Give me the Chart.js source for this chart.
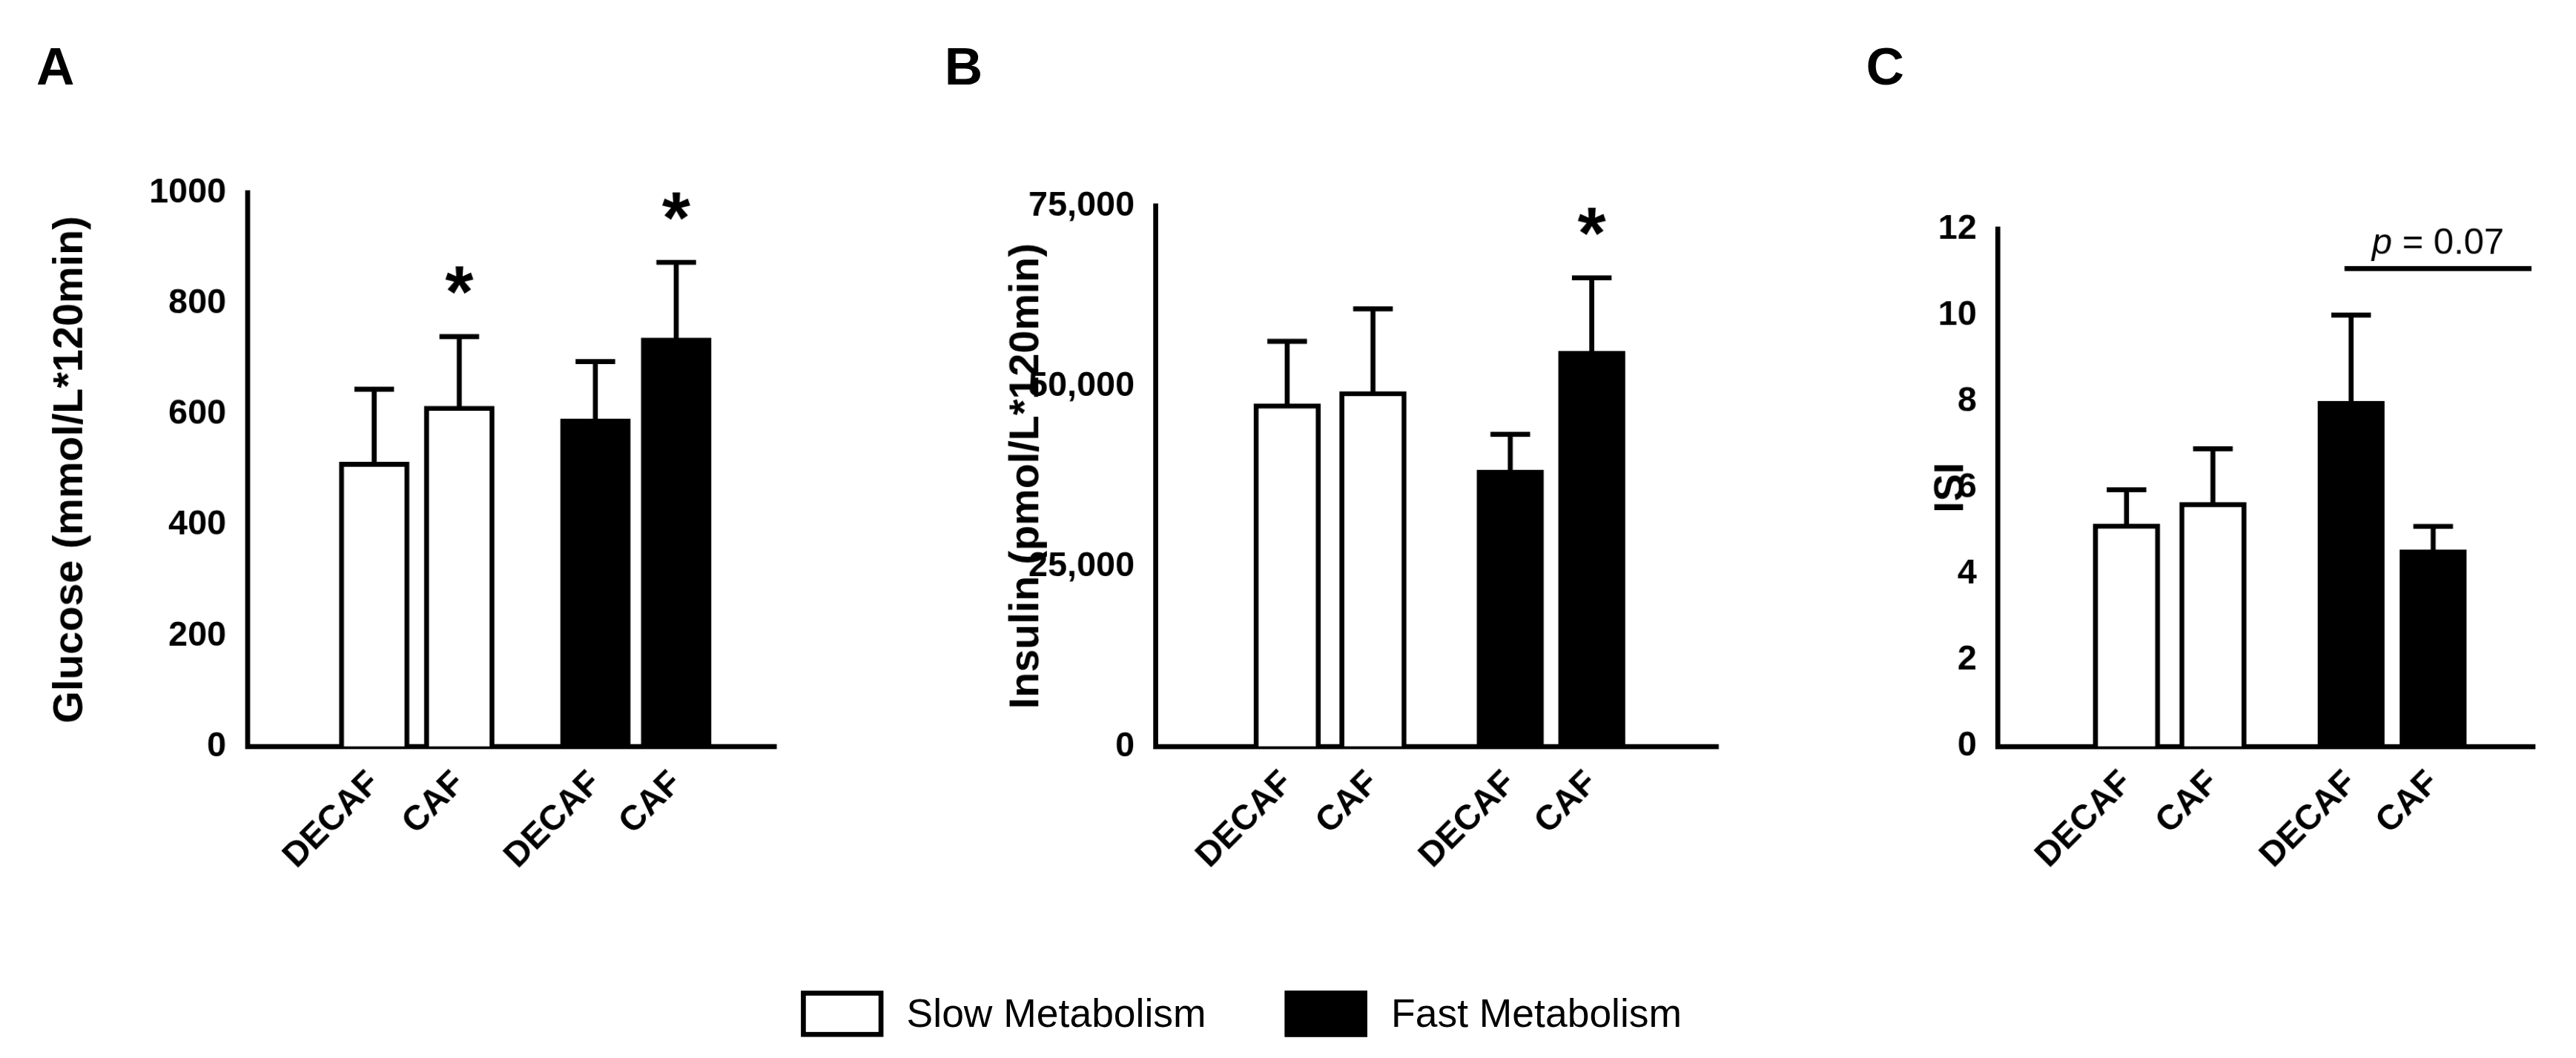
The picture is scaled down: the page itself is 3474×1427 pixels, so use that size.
<!DOCTYPE html><html><head><meta charset="utf-8">
<script src="https://cdn.jsdelivr.net/npm/chart.js@4"></script>
<style>
html,body{margin:0;padding:0;background:#fff;width:3474px;height:1427px;overflow:hidden}
#wrap{position:absolute;left:0;top:0;width:1560px;height:641px;transform:scale(2.227);transform-origin:0 0;font-family:Arial,"Liberation Sans",sans-serif}
.box{position:absolute}
.lab{position:absolute;font-weight:bold;font-size:32px}
#legend{position:absolute;top:600px;left:485px;font-size:24px;display:flex;align-items:center}
.sw{display:inline-block;width:50px;height:28px;border:3px solid #000;box-sizing:border-box;margin-right:14px}
</style></head><body><div id="wrap">
<div class="lab" style="left:22px;top:22px">A</div>
<div class="lab" style="left:572px;top:22px">B</div>
<div class="lab" style="left:1130px;top:22px">C</div>
<div class="box" style="left:28px;top:100px;width:444px;height:452px"><canvas id="cA"></canvas></div>
<div class="box" style="left:607px;top:108px;width:435px;height:444px"><canvas id="cB"></canvas></div>
<div class="box" style="left:1167px;top:122px;width:370px;height:430px"><canvas id="cC"></canvas></div>
<div id="legend"><span class="sw" style="background:#fff"></span><span style="margin-right:48px">Slow Metabolism</span><span class="sw" style="background:#000"></span><span>Fast Metabolism</span></div>
</div>
<script>
const categories=["DECAF","CAF","DECAF","CAF"];
const groups=["Slow","Slow","Fast","Fast"];
const glucoseMean=[513,614,591,737];
const glucoseErr=[132,126,104,137];
const insulinMean=[47500,49200,38300,54800];
const insulinErr=[8700,11500,5000,10200];
const isiMean=[5.15,5.65,8.0,4.55];
const isiErr=[0.8,1.25,2.0,0.55];
const sigA=["","*","","*"];
const sigB=["","","","*"];
const slotPos=[0,1,2.6,3.55];

const errPlugin={id:'err',afterDatasetsDraw(ch){
  const o=ch.options.plugins.err;const ctx=ch.ctx;const xs=ch.scales.x,ys=ch.scales.y;
  ctx.save();ctx.strokeStyle='#000';ctx.lineWidth=3;
  o.mean.forEach((m,i)=>{const x=xs.getPixelForValue(slotPos[i]);const y0=ys.getPixelForValue(m),y1=ys.getPixelForValue(m+o.err[i]);
    ctx.beginPath();ctx.moveTo(x,y0);ctx.lineTo(x,y1);ctx.moveTo(x-12,y1);ctx.lineTo(x+12,y1);ctx.stroke();
    if(o.sig&&o.sig[i]){ctx.fillStyle='#000';ctx.font='bold 44px Arial';ctx.textAlign='center';ctx.textBaseline='top';ctx.fillText(o.sig[i],x,y1-46);}
  });
  if(o.p){const x1=xs.getPixelForValue(slotPos[2])-4,x2=ch.chartArea.right-2,y=ys.getPixelForValue(11.08);
    ctx.beginPath();ctx.moveTo(x1,y);ctx.lineTo(x2,y);ctx.stroke();
    ctx.fillStyle='#000';ctx.textBaseline='alphabetic';
    const t1='p',t2=' = 0.07';ctx.font='22px Arial';const w2=ctx.measureText(t2).width;ctx.font='italic 22px Arial';const w1=ctx.measureText(t1).width;
    const sx=(x1+x2)/2-(w1+w2)/2;ctx.textAlign='left';ctx.fillText(t1,sx,y-9);ctx.font='22px Arial';ctx.fillText(t2,sx+w1,y-9);}
  ctx.restore();}};

function make(id,mean,err,title,max,step,fmt,xmax,bw,yw,extra){
  const data=mean.map((v,i)=>({x:slotPos[i],y:v}));
  new Chart(document.getElementById(id),{type:'bar',
    data:{datasets:[{data,backgroundColor:groups.map(g=>g==='Fast'?'#000':'#fff'),borderColor:'#000',borderWidth:3,barThickness:bw}]},
    options:{responsive:true,maintainAspectRatio:false,animation:false,devicePixelRatio:2.3,
      layout:{padding:{top:16,right:2}},
      plugins:{legend:{display:false},tooltip:{enabled:false},err:Object.assign({mean,err},extra)},
      scales:{
        x:{type:'linear',min:-0.71,max:xmax,grid:{display:false,drawTicks:false},border:{color:'#000',width:3},
          afterBuildTicks(s){s.ticks=slotPos.map(v=>({value:v}));},
          afterFit(s){s.height=100;},
          ticks:{autoSkip:false,maxRotation:45,minRotation:45,padding:10,color:'#000',font:{size:21,weight:'bold',family:'Arial'},
            callback:(v,i)=>categories[i]}},
        y:{min:0,max,afterFit(s){s.width=yw;},grid:{display:false,drawTicks:true,tickLength:9,tickColor:'#000',tickWidth:3},border:{color:'#000',width:3},
          ticks:{stepSize:step,padding:4,color:'#000',font:{size:21,weight:'bold',family:'Arial'},callback:fmt},
          title:{display:true,text:title,color:'#000',padding:{top:0,bottom:4},font:{size:25,weight:'bold',family:'Arial'}}}}},
    plugins:[errPlugin]});
}
make('cA',glucoseMean,glucoseErr,'Glucose (mmol/L*120min)',1000,200,v=>v,3.95,42,122,{sig:sigA});
make('cB',insulinMean,insulinErr,'Insulin (pmol/L*120min)',75000,25000,v=>v.toLocaleString('en-US'),4.2,40,93,{sig:sigB});
make('cC',isiMean,isiErr,'ISI',12,2,v=>v,3.95,40,43,{p:true});
</script></body></html>
